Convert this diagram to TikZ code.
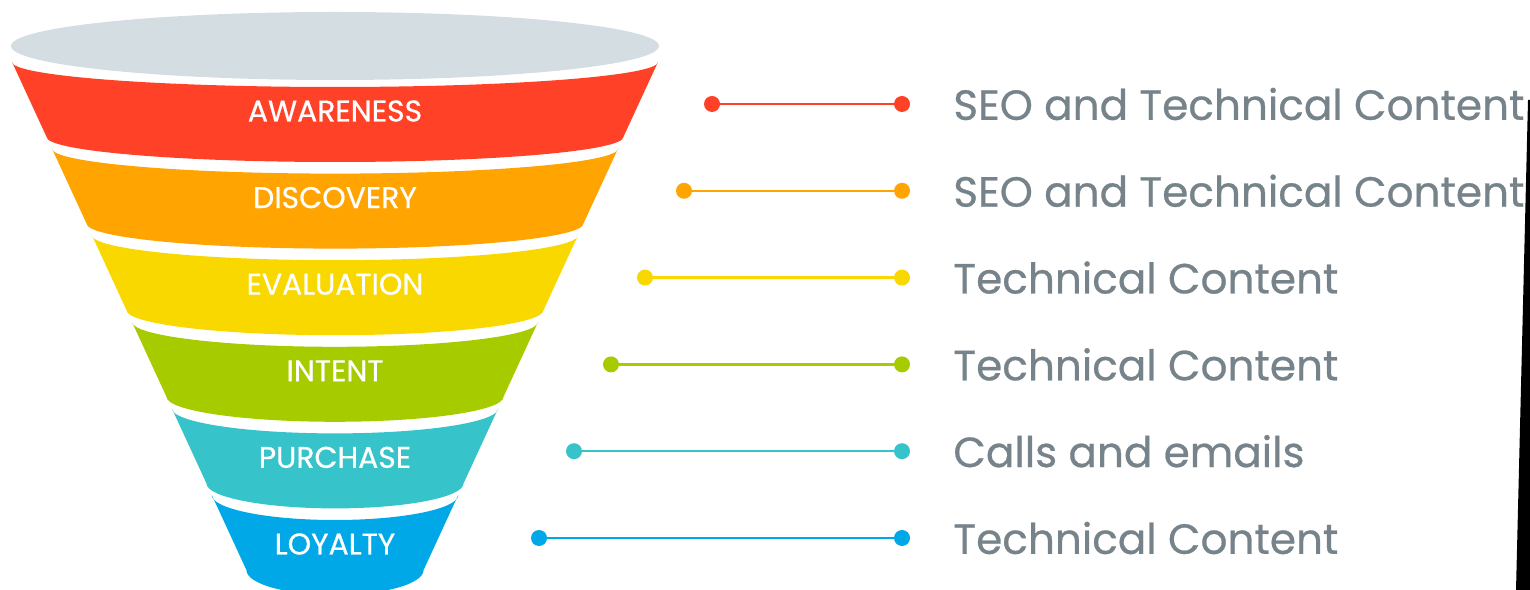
\documentclass[tikz,border=0pt]{standalone}
\usepackage{fontspec}
\setmainfont{Poppins}
\newfontfamily\heavyfont[FakeBold=0.6]{Poppins}
\usetikzlibrary{positioning}

\definecolor{rimgray}{HTML}{D4DDE2}
\definecolor{cawa}{HTML}{FF4127}
\definecolor{cdis}{HTML}{FFA400}
\definecolor{ceva}{HTML}{F9D800}
\definecolor{cint}{HTML}{A6CC00}
\definecolor{cpur}{HTML}{36C4CA}
\definecolor{cloy}{HTML}{00A8E8}
\definecolor{txtgray}{HTML}{76838A}

\tikzset{
  stagelabel/.style={text=white, font=\heavyfont\fontsize{17}{19}\selectfont},
  dot/.style={circle, inner sep=0pt, minimum size=16*0.02cm},
  channel/.style={anchor=west, text=txtgray, inner sep=0pt, font=\heavyfont\fontsize{24}{27}\selectfont}
}

\begin{document}
\begin{tikzpicture}[x=0.02cm, y=-0.02cm]
    \useasboundingbox (0,0) rectangle (1530,590);

    % Rim of the funnel
    \fill[rimgray] (335,46) ellipse [x radius=324, y radius=34];

    % Stages of the funnel with their channels
    \foreach \i/\col/\lab/\xl/\txt in {
        0/cawa/AWARENESS/712/SEO and Technical Content,
        1/cdis/DISCOVERY/684/SEO and Technical Content,
        2/ceva/EVALUATION/645/Technical Content,
        3/cint/INTENT/611/Technical Content,
        4/cpur/PURCHASE/574/Calls and emails,
        5/cloy/LOYALTY/539/Technical Content} {
        \pgfmathsetmacro{\yt}{62+86.6*\i}
        \pgfmathsetmacro{\yb}{\yt+75}
        \pgfmathsetmacro{\wt}{323-0.4614*(\yt-62)}
        \pgfmathsetmacro{\wb}{323-0.4614*(\yb-62)}
        \pgfmathsetmacro{\yr}{104+86.8*\i}
        \fill[\col] (335-\wt,\yt) -- (335-\wb,\yb)
            arc[start angle=180, end angle=0, x radius=\wb, y radius=25]
            -- (335+\wt,\yt)
            arc[start angle=0, end angle=180, x radius=\wt, y radius=25] -- cycle;
        \node[stagelabel] (lab\i) at (335,\yt+49) {\lab};
        \node[dot, fill=\col] (dl\i) at (\xl,\yr) {};
        \node[dot, fill=\col] (dr\i) at (902,\yr) {};
        \draw[\col, line width=2.5*0.02cm] (dl\i) -- (dr\i);
        \node[channel] (ch\i) at (953,\yr) {\txt};
    }

    % Dark sliver at the right edge
    \fill[black] (1528,100) -- (1530,100) -- (1530,590) -- (1516,590) -- cycle;
\end{tikzpicture}
\end{document}
